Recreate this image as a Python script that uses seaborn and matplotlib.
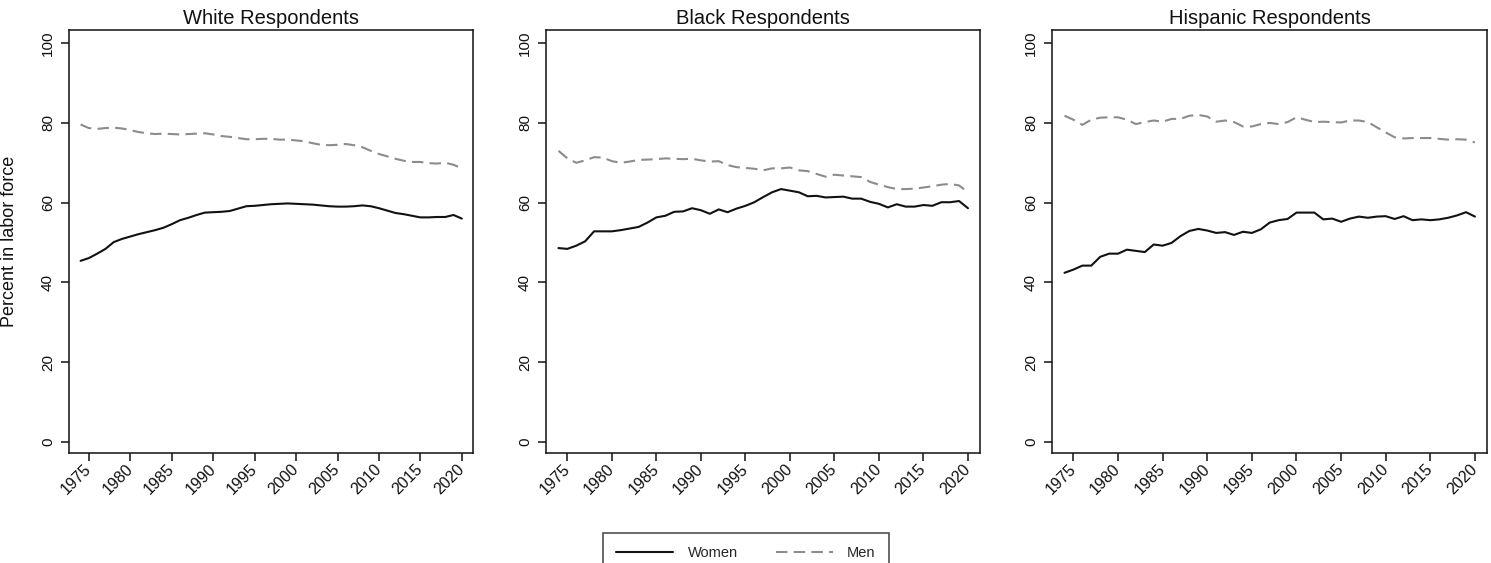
import numpy as np
import pandas as pd
import matplotlib
matplotlib.use("Agg")
import matplotlib.pyplot as plt
import seaborn as sns

years = list(range(1974, 2021))

white_women = [45.4, 46.1, 47.2, 48.4, 50.1, 50.9, 51.5, 52.1, 52.6, 53.1,
               53.7, 54.6, 55.6, 56.2, 56.9, 57.5, 57.6, 57.7, 57.9, 58.5,
               59.1, 59.2, 59.4, 59.6, 59.7, 59.8, 59.7, 59.6, 59.5, 59.3,
               59.1, 59.0, 59.0, 59.1, 59.3, 59.1, 58.6, 58.0, 57.4, 57.1,
               56.7, 56.3, 56.3, 56.4, 56.4, 56.9, 56.0]
white_men = [79.6, 78.7, 78.5, 78.7, 78.8, 78.6, 78.2, 77.7, 77.4, 77.2,
             77.3, 77.2, 77.1, 77.2, 77.3, 77.4, 77.1, 76.7, 76.5, 76.2,
             75.9, 75.9, 76.0, 76.0, 75.8, 75.8, 75.6, 75.4, 74.9, 74.5,
             74.4, 74.5, 74.7, 74.4, 73.9, 73.0, 72.2, 71.6, 71.0, 70.5,
             70.2, 70.2, 69.9, 69.8, 70.0, 69.5, 68.6]

black_women = [48.6, 48.4, 49.2, 50.3, 52.8, 52.8, 52.8, 53.1, 53.5, 53.9,
               55.0, 56.3, 56.7, 57.7, 57.8, 58.6, 58.1, 57.2, 58.3, 57.6,
               58.5, 59.2, 60.1, 61.4, 62.6, 63.4, 63.0, 62.6, 61.6, 61.7,
               61.3, 61.4, 61.5, 61.0, 61.0, 60.2, 59.7, 58.8, 59.6, 59.0,
               59.0, 59.4, 59.2, 60.1, 60.1, 60.4, 58.6]
black_men = [73.0, 71.1, 70.0, 70.6, 71.4, 71.3, 70.4, 70.0, 70.3, 70.7,
             70.8, 70.9, 71.1, 71.0, 70.9, 71.0, 70.6, 70.3, 70.4, 69.4,
             68.9, 68.7, 68.5, 68.1, 68.6, 68.6, 68.8, 68.1, 67.9, 67.2,
             66.5, 67.0, 66.8, 66.6, 66.4, 65.2, 64.5, 63.9, 63.4, 63.4,
             63.5, 63.8, 64.1, 64.5, 64.7, 64.3, 62.6]

hispanic_women = [42.4, 43.2, 44.2, 44.2, 46.4, 47.2, 47.2, 48.2, 47.9, 47.6,
                  49.5, 49.2, 49.9, 51.6, 52.9, 53.4, 53.0, 52.4, 52.6, 51.9,
                  52.7, 52.4, 53.3, 55.0, 55.6, 55.9, 57.5, 57.5, 57.5, 55.8,
                  56.0, 55.2, 56.0, 56.5, 56.2, 56.5, 56.6, 55.9, 56.6, 55.6,
                  55.8, 55.6, 55.8, 56.2, 56.8, 57.6, 56.5]
hispanic_men = [81.8, 80.8, 79.5, 80.8, 81.3, 81.4, 81.4, 80.8, 79.7, 80.2,
                80.6, 80.3, 81.0, 81.0, 81.8, 82.0, 81.6, 80.3, 80.6, 80.2,
                79.1, 79.1, 79.7, 80.0, 79.7, 80.2, 81.4, 80.8, 80.2, 80.3,
                80.2, 80.1, 80.6, 80.6, 80.2, 78.9, 77.6, 76.4, 76.1, 76.2,
                76.2, 76.2, 76.0, 75.8, 75.9, 75.8, 75.1]

groups = ["White Respondents", "Black Respondents", "Hispanic Respondents"]
series = {
    "White Respondents": (white_women, white_men),
    "Black Respondents": (black_women, black_men),
    "Hispanic Respondents": (hispanic_women, hispanic_men),
}
x_ticks = list(range(1975, 2021, 5))
y_ticks = [0, 20, 40, 60, 80, 100]

frames = []
for g in groups:
    w, m = series[g]
    frames.append(pd.DataFrame({"year": years, "pct": w, "sex": "Women", "group": g}))
    frames.append(pd.DataFrame({"year": years, "pct": m, "sex": "Men", "group": g}))
df = pd.concat(frames, ignore_index=True)

sns.set_theme(style="ticks")
plt.rcParams["font.family"] = ["Liberation Sans", "DejaVu Sans"]
plt.rcParams["axes.linewidth"] = 1.1

fig = plt.figure(figsize=(14.91, 5.63), dpi=100)
W, H = 1491, 563
boxes = [(69, 473), (546, 980), (1052, 1487)]
top_px, bot_px = 30, 453

palette = {"Women": "#111111", "Men": "#8c8c8c"}
dashes = {"Women": "", "Men": (5.5, 3.0)}

axes = []
for g, (l, r) in zip(groups, boxes):
    ax = fig.add_axes([l / W, 1 - bot_px / H, (r - l) / W, (bot_px - top_px) / H])
    sub = df[df["group"] == g]
    sns.lineplot(data=sub, x="year", y="pct", hue="sex", style="sex",
                 hue_order=["Women", "Men"], style_order=["Women", "Men"],
                 palette=palette, dashes=dashes, linewidth=1.5,
                 legend=False, ax=ax)
    ax.set_xlim(1972.6, 2021.35)
    ax.set_ylim(-2.8, 103.3)
    ax.set_xticks(x_ticks)
    ax.set_yticks(y_ticks)
    ax.set_xticklabels([str(t) for t in x_ticks], rotation=45,
                       ha="right", va="center", rotation_mode="anchor")
    ax.set_yticklabels([str(t) for t in y_ticks], rotation=90, va="center")
    ax.tick_params(axis="x", length=6, width=1.1, pad=4, labelsize=11.5, colors="#111111")
    ax.tick_params(axis="y", length=6, width=1.1, pad=4, labelsize=11, colors="#111111")
    for s in ax.spines.values():
        s.set_visible(True)
        s.set_color("#111111")
    ax.set_xlabel("")
    ax.set_ylabel("")
    ax.set_title(g, fontsize=14.5, pad=4, color="#111111")
    axes.append(ax)

axes[0].set_ylabel("Percent in labor force", fontsize=13, color="#111111")
axes[0].yaxis.set_label_coords(-0.125, 0.5)

handles = [
    plt.Line2D([], [], color=palette["Women"], lw=1.5),
    plt.Line2D([], [], color=palette["Men"], lw=1.5, dashes=dashes["Men"]),
]
fig.legend(handles, ["Women", "Men"], loc="upper center",
           bbox_to_anchor=(746 / W, 1 - 533 / H), ncol=2, frameon=True,
           fancybox=False, edgecolor="#111111", fontsize=10.5,
           handlelength=3.9, handletextpad=1.0, columnspacing=2.6,
           borderpad=0.9, borderaxespad=0)
fig.legends[0].get_frame().set_linewidth(1.1)

fig.savefig("out.png", dpi=100, facecolor="white")
